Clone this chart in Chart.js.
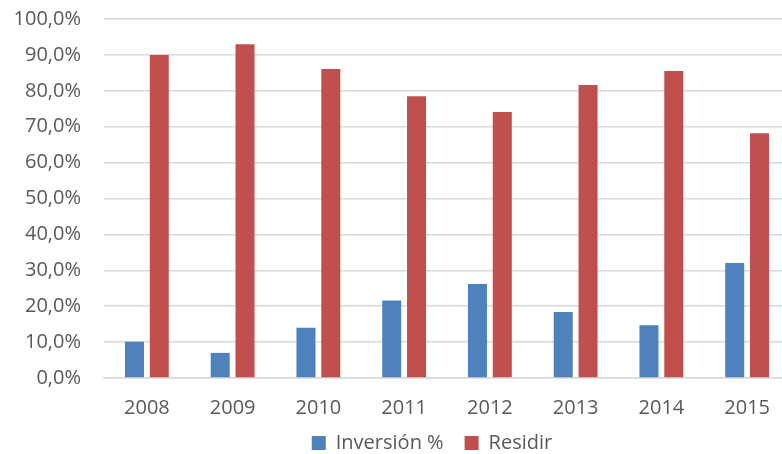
<!DOCTYPE html>
<html><head><meta charset="utf-8">
<script src="https://cdn.jsdelivr.net/npm/chart.js@4"></script>
<style>html,body{margin:0;padding:0;overflow:hidden;background:#fff}
#wrap{width:792px;height:454px;position:relative}</style></head>
<body><div id="wrap"><canvas id="c" width="792" height="454"></canvas></div>
<script>
const categories = ['2008', '2009', '2010', '2011', '2012', '2013', '2014', '2015'];
const inversion = [10.1, 7.0, 14.0, 21.6, 26.2, 18.4, 14.7, 32.0];
const residir = [90.0, 93.0, 86.1, 78.5, 74.1, 81.6, 85.5, 68.2];
const seriesNames = ['Inversión %', 'Residir'];
const yMin = 0, yMax = 100, yStep = 10;

const textColor = '#595959';
const font = {family: "'Open Sans', sans-serif", size: 20};

const shiftLegend = {
  id: 'shiftLegend',
  afterLayout(chart) {
    const l = chart.legend;
    if (l) { l.left += 37; l.right += 37; l.top -= 8; l.bottom -= 8; }
  }
};

new Chart(document.getElementById('c'), {
  type: 'bar',
  data: {
    labels: categories,
    datasets: [
      {label: seriesNames[0], data: inversion, backgroundColor: '#4F81BD',
       categoryPercentage: 0.579, barPercentage: 0.766},
      {label: seriesNames[1], data: residir, backgroundColor: '#C0504D',
       categoryPercentage: 0.579, barPercentage: 0.766}
    ]
  },
  plugins: [shiftLegend],
  options: {
    responsive: false,
    animation: false,
    layout: {padding: {top: 19, right: 2, left: 0, bottom: -17}},
    scales: {
      x: {
        afterFit: s => { s.height = 42; },
        grid: {display: false, drawTicks: false},
        border: {display: true, color: '#d9d9d9', width: 1.5},
        ticks: {color: textColor, font: font, padding: 18, maxRotation: 0}
      },
      y: {
        min: yMin, max: yMax,
        afterFit: s => { s.width = 104; s.paddingTop = 0; s.paddingBottom = 0; },
        grid: {color: '#d9d9d9', lineWidth: 1.5, drawTicks: false},
        border: {display: false},
        ticks: {stepSize: yStep, color: textColor, font: font, padding: 23,
          callback: v => v.toFixed(1).replace('.', ',') + '%'}
      }
    },
    plugins: {
      tooltip: {enabled: false},
      legend: {
        position: 'bottom',
        labels: {color: textColor, font: font, boxWidth: 14, boxHeight: 14, padding: 21}
      }
    }
  }
});
</script></body></html>
